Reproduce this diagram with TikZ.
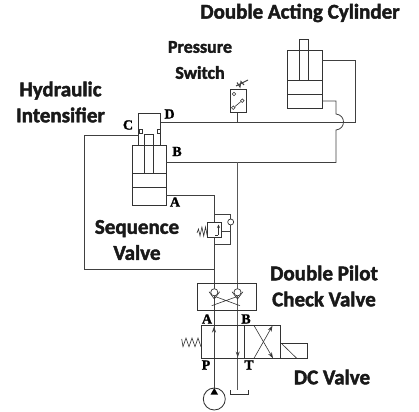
\documentclass[tikz,border=0pt]{standalone}
\usepackage{fontspec}
\setmainfont{Carlito}[BoldFeatures={FakeBold=2}]
\usetikzlibrary{arrows.meta}
\newfontfamily\serifb{Liberation Serif}[BoldFeatures={FakeBold=1.5}]
\tikzset{
 x=1pt,y=-1pt,
 pipe/.style={draw=black!75,line width=.8pt,line join=miter},
 thin pipe/.style={draw=black!80,line width=.6pt},
 body/.style={draw=black!80,line width=.85pt},
 title/.style={font=\fontsize{21}{26}\selectfont\bfseries,align=center,text=black!90,inner sep=0pt},
 small title/.style={title,font=\fontsize{18}{26}\selectfont\bfseries},
 port/.style={font=\serifb\fontsize{14}{14}\selectfont\bfseries,inner sep=0pt},
 head/.style={-{Stealth[length=6pt,width=4pt]}},
}
\begin{document}
\begin{tikzpicture}
\useasboundingbox (0,0) rectangle (419,411);
% titles
\node[title] (tcyl) at (300,13) {Double Acting Cylinder};
\node[small title] (tsw) at (200,60) {Pressure\\Switch};
\node[title] (tint) at (60.5,102) {Hydraulic\\Intensifier};
\node[title] (tseq) at (137,240) {Sequence\\Valve};
\node[title] (tchk) at (324,286) {Double Pilot\\Check Valve};
\node[title] (tdc) at (332,377) {DC Valve};
% ports
\node[port] (pc) at (128,125) {C};
\node[port] (pd) at (169.5,114) {D};
\node[port] (pb) at (177,151.5) {B};
\node[port] (pa) at (175,202) {A};
\node[port] (va) at (207,319) {A};
\node[port] (vb) at (246,319) {B};
\node[port] (vp) at (206,365) {P};
\node[port] (vt) at (249,365) {T};
% intensifier
\draw[body] (138.5,145) -- (138.5,113.5) -- (160.5,113.5) -- (160.5,145);
\draw[body] (132,145) rectangle (166,205.5);
\draw[body] (132,173.5) -- (166,173.5) (132,187.5) -- (166,187.5);
\draw[body] (144.5,173.5) -- (144.5,134.5) -- (153.5,134.5) -- (153.5,173.5);
\draw[thin pipe] (139,129) rectangle (142.5,133);
\draw[thin pipe] (157,129) rectangle (160.5,133);
% cylinder
\draw[body] (287.5,50) rectangle (322,108);
\draw[body] (287.5,80.5) -- (322,80.5) (287.5,94.5) -- (322,94.5);
\draw[body] (299.5,80.5) -- (299.5,39.5) -- (308.5,39.5) -- (308.5,80.5);
% pipes
\draw[pipe] (138.5,135) -- (84,135) -- (84,269) -- (214,269);
\draw[pipe] (160.5,122) -- (355,122) -- (355,60) -- (322,60);
\draw[pipe] (166,162.5) -- (336,162.5) -- (336,130) .. controls (346,129) and (346,115) .. (336,114) -- (336,101) -- (322,101);
\draw[pipe] (166,195) -- (214,195) -- (214,388);
\draw[pipe] (237.7,122) -- (237.7,112);
\draw[pipe,draw=black!65] (237.7,162.5) -- (237.7,390);
% pressure switch
\draw[body,fill=white] (230,89) rectangle (246,112.3);
\draw[thin pipe,fill=white] (234,94) circle (1.8);
\draw[thin pipe,fill=white] (233.3,107.7) circle (1.8);
\draw[thin pipe,fill=white] (242.3,100.7) circle (1.8);
\draw[thin pipe] (235,106.5) -- (240.7,101.7);
\draw[pipe,line width=1pt] (236,86) -- (248,80);
\draw[pipe,line width=1pt] (237,82.5) -- (240,87) -- (241,81.5) -- (244,85);
% sequence valve
\draw[pipe] (214,214) -- (230.7,214) -- (230.7,244.3) -- (214,244.3);
\draw[pipe] (221,231.7) -- (230.7,231.7);
\draw[thin pipe,line width=.7pt,fill=white] (230.7,222) circle (3);
\draw[body,fill=white] (207.3,222) rectangle (221.5,237);
\draw[thin pipe,-{Stealth[length=3.5pt,width=3pt]}] (218.5,235) -- (218.5,224.5);
\draw[thin pipe] (218,235) -- (214.5,235);
\draw[thin pipe] (207.3,236) -- (205.5,227) -- (203.7,236) -- (201.9,227) -- (200,236) -- (198.5,229) -- (197,233);
% check valve
\draw[body] (197.7,283.7) rectangle (256.7,310);
\draw[thin pipe] (209,291.7) -- (214.3,299) -- (219.7,291.7);
\draw[thin pipe] (232,291.7) -- (237.5,299) -- (243,291.7);
\draw[thin pipe] (215.7,296.7) -- (240,305.7) (236.7,296.7) -- (211.7,305.7);
\draw[thin pipe,line width=.7pt,fill=white] (214.3,292.3) circle (3.6);
\draw[thin pipe,line width=.7pt,fill=white] (237.5,292.3) circle (3.6);
% DC valve
\draw[body] (201,325.5) rectangle (280.5,358.3);
\draw[body,line width=1.1pt] (244.5,325.5) -- (244.5,358.3);
\draw[body] (280.5,343.7) -- (307,343.7) -- (307,358.3) -- (280.5,358.3);
\draw[thin pipe] (282,344) -- (296.7,358.3);
\draw[thin pipe,head] (254,358.3) -- (272.5,325.7);
\draw[thin pipe,head] (254,325.5) -- (273,358.3);
\draw[pipe,head] (214,358) -- (214,326.5);
\draw[pipe,head] (237.7,326) -- (237.7,357.5);
\draw[thin pipe] (201,346.7) -- (198,338) -- (195,346.7) -- (192,338) -- (189,346.7) -- (186,338) -- (183,346.7) -- (181.7,339);
% pump and tank
\draw[body] (214.3,399) circle (11);
\fill[black] (214.3,388) -- (218,394.5) -- (210.6,394.5) -- cycle;
\draw[body] (230,390) -- (230,394) -- (248,394) -- (248,390);
\end{tikzpicture}
\end{document}
